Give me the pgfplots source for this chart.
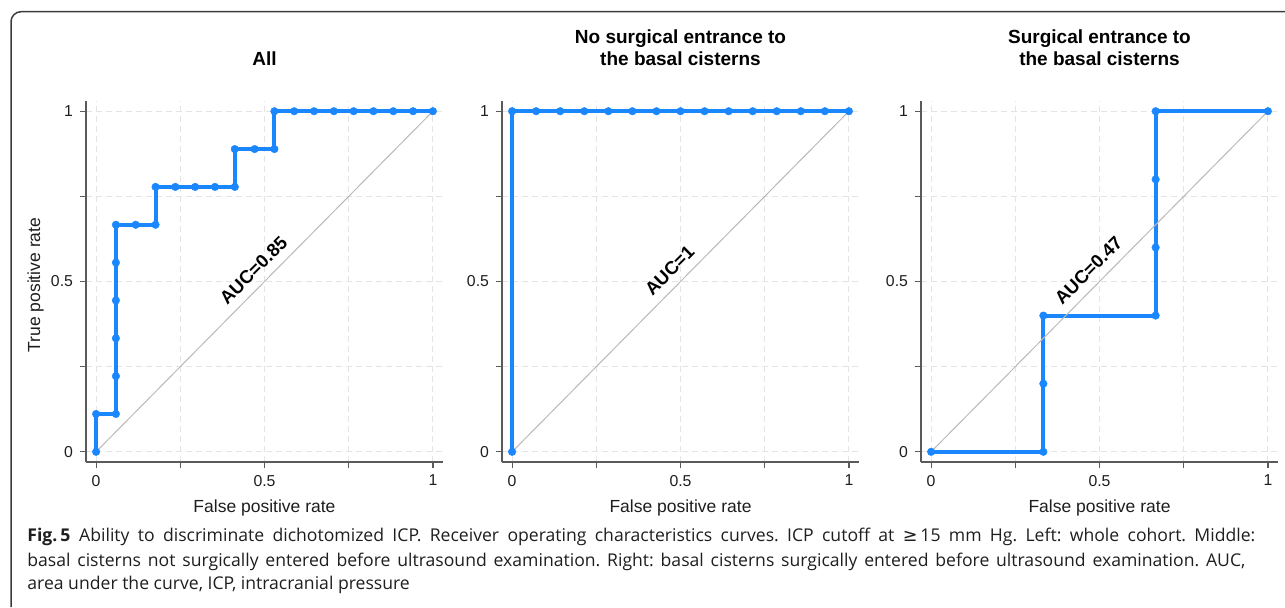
\documentclass[border=0pt]{standalone}
\usepackage{fontspec}
\setmainfont{Liberation Sans}
\newfontfamily\capfont{Open Sans}
\newfontfamily\symfont{DejaVu Sans}
\usepackage{pgfplots}
\pgfplotsset{compat=1.18}
\definecolor{rocblue}{RGB}{27,135,255}
\definecolor{axgray}{RGB}{90,90,90}
\definecolor{gridgray}{RGB}{228,228,228}
\definecolor{diaggray}{RGB}{185,185,185}
\definecolor{framegray}{RGB}{60,60,60}
\definecolor{txt}{RGB}{30,30,30}
\pgfplotsset{
  rocax/.style={
    scale only axis, width=178.5pt, height=180.5pt,
    xmin=-0.03, xmax=1.03, ymin=-0.03, ymax=1.03,
    axis x line=bottom, axis y line=left,
    axis line style={-, line width=0.75pt, color=axgray},
    xtick={0,0.25,0.5,0.75,1}, ytick={0,0.25,0.5,0.75,1},
    xticklabels={0,,0.5,,1}, yticklabels={0,,0.5,,1},
    tick align=outside, major tick length=3pt,
    tick style={line width=0.6pt, color=axgray},
    grid=major, grid style={gridgray, line width=0.5pt, dash pattern=on 3pt off 2pt},
    ticklabel style={font=\fontsize{7.9}{9}\selectfont, text=txt},
    clip=false,
  },
  roc/.style={rocblue, line width=2pt, mark=*, mark size=1.9pt, mark options={solid, line width=0.2pt, fill=rocblue}},
  diag/.style={diaggray, line width=0.5pt, no marks},
}
\tikzset{auc/.style={rotate=45, anchor=south, inner sep=0pt, outer sep=4.5pt, font=\bfseries\fontsize{9.2}{11}\selectfont},
  ttl/.style={anchor=base, font=\bfseries\fontsize{9.5}{11}\selectfont},
  lbl/.style={anchor=base, font=\fontsize{8.75}{10}\selectfont, text=txt}}
\begin{document}
\frenchspacing
\begin{tikzpicture}
\useasboundingbox (0,0) rectangle (642.5pt,-303.5pt);
\draw[framegray, line width=0.75pt, rounded corners=5pt] (5.5pt,-303.5pt) -- (5.5pt,-5.85pt) -- (642.5pt,-5.85pt);

\begin{axis}[rocax, at={(43pt,-231pt)}, anchor=south west]
\addplot[roc] coordinates {(0,0) (0,0.1111) (0.0588,0.1111) (0.0588,0.2222) (0.0588,0.3333) (0.0588,0.4444) (0.0588,0.5556) (0.0588,0.6667) (0.1176,0.6667) (0.1765,0.6667) (0.1765,0.7778) (0.2353,0.7778) (0.2941,0.7778) (0.3529,0.7778) (0.4118,0.7778) (0.4118,0.8889) (0.4706,0.8889) (0.5294,0.8889) (0.5294,1) (0.5882,1) (0.6471,1) (0.7059,1) (0.7647,1) (0.8235,1) (0.8824,1) (0.9412,1) (1,1)};
\addplot[diag] coordinates {(0,0) (1,1)};
\node[auc] at (axis cs:0.5,0.5) {AUC=0.85};
\end{axis}

\begin{axis}[rocax, at={(251pt,-231pt)}, anchor=south west]
\addplot[roc] coordinates {(0,0) (0,1) (0.0714,1) (0.1429,1) (0.2143,1) (0.2857,1) (0.3571,1) (0.4286,1) (0.5,1) (0.5714,1) (0.6429,1) (0.7143,1) (0.7857,1) (0.8571,1) (0.9286,1) (1,1)};
\addplot[diag] coordinates {(0,0) (1,1)};
\node[auc] at (axis cs:0.5,0.5) {AUC=1};
\end{axis}

\begin{axis}[rocax, at={(460.5pt,-231pt)}, anchor=south west]
\addplot[roc] coordinates {(0,0) (0.3333,0) (0.3333,0.2) (0.3333,0.4) (0.6667,0.4) (0.6667,0.6) (0.6667,0.8) (0.6667,1) (1,1)};
\addplot[diag] coordinates {(0,0) (1,1)};
\node[auc] at (axis cs:0.5,0.5) {AUC=0.47};
\end{axis}

% titles
\node[ttl] at (132.25pt,-32.8pt) {All};
\node[ttl] at (340.25pt,-21.7pt) {No surgical entrance to};
\node[ttl] at (340.25pt,-32.8pt) {the basal cisterns};
\node[ttl] at (549.75pt,-21.7pt) {Surgical entrance to};
\node[ttl] at (549.75pt,-32.8pt) {the basal cisterns};
% axis labels
\node[lbl] at (132.25pt,-256pt) {False positive rate};
\node[lbl] at (340.25pt,-256pt) {False positive rate};
\node[lbl] at (549.75pt,-256pt) {False positive rate};
\node[lbl, rotate=90] at (20pt,-142.5pt) {True positive rate};
% caption
\begin{scope}[every node/.style={anchor=base west, inner sep=0pt, font=\capfont\fontsize{8.8}{12}\selectfont\frenchspacing, text=txt}]
\node at (13.5pt,-270.9pt) {\makebox[614pt][s]{\mbox{\textbf{Fig.\,5}\hspace{0.5em}Ability} to discriminate dichotomized ICP. Receiver operating characteristics curves. ICP cutoff at \mbox{{\symfont ≥}\,15} mm Hg. Left: whole cohort. Middle:}};
\node at (13.5pt,-283.3pt) {\makebox[609pt][s]{basal cisterns not surgically entered before ultrasound examination. Right: basal cisterns surgically entered before ultrasound examination. AUC,}};
\node at (13.5pt,-294.5pt) {area under the curve, ICP, intracranial pressure};
\end{scope}
\end{tikzpicture}
\end{document}
